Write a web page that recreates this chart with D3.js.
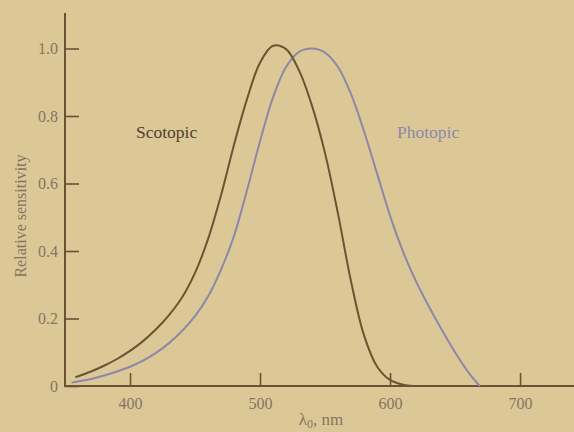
<!DOCTYPE html>
<html>
<head>
  <script src="https://d3js.org/d3.v7.min.js"></script>
  <style>
    body { margin: 0; background: #dcc897; }
    svg { display: block; }
    text { font-family: "Liberation Serif", "DejaVu Serif", serif; }
  </style>
</head>
<body>
  <div id="chart"></div>
  <script>
    // Relative sensitivity curves
    const scotopicNm = [358, 370, 380, 390, 400, 410, 420, 430, 440, 450, 460, 470, 480, 490, 500, 510, 520, 530, 540, 550, 560, 570, 580, 590, 600, 610, 618];
    const scotopicVal = [0.026, 0.043, 0.060, 0.080, 0.104, 0.133, 0.168, 0.210, 0.262, 0.335, 0.435, 0.565, 0.715, 0.850, 0.958, 1.008, 0.998, 0.935, 0.830, 0.690, 0.510, 0.310, 0.150, 0.058, 0.018, 0.004, 0];

    const photopicNm = [355, 370, 380, 390, 400, 410, 420, 430, 440, 450, 460, 470, 480, 490, 500, 510, 520, 530, 540, 550, 560, 570, 580, 590, 600, 610, 620, 630, 640, 650, 660, 669];
    const photopicVal = [0.010, 0.021, 0.031, 0.043, 0.057, 0.075, 0.098, 0.127, 0.163, 0.207, 0.265, 0.345, 0.445, 0.580, 0.725, 0.855, 0.945, 0.990, 1.0, 0.988, 0.945, 0.865, 0.755, 0.630, 0.505, 0.398, 0.310, 0.235, 0.165, 0.100, 0.042, 0];

    const xTicks = [400, 500, 600, 700];
    const yTicks = [0, 0.2, 0.4, 0.6, 0.8, 1.0];
    const yTickLabels = ["0", "0.2", "0.4", "0.6", "0.8", "1.0"];

    const W = 574, H = 432;
    const axisCol = "#6a5233";
    const labelCol = "#857560";

    const svg = d3.select("#chart").append("svg")
      .attr("width", W)
      .attr("height", H);

    svg.append("rect").attr("width", W).attr("height", H).attr("fill", "#dcc897");

    const x = d3.scaleLinear().domain([350, 741.5]).range([65, 574]);
    const y = d3.scaleLinear().domain([0, 1]).range([386, 48.5]);

    // x axis, ticks pointing up
    const gx = svg.append("g")
      .attr("transform", "translate(0,386)")
      .call(d3.axisBottom(x).tickValues(xTicks).tickSize(-13).tickSizeOuter(0).tickPadding(12));
    gx.select(".domain").remove();
    gx.selectAll(".tick line").attr("stroke", axisCol).attr("stroke-width", 1.6);
    gx.selectAll(".tick text").attr("fill", labelCol).attr("font-size", 16);

    // y axis, ticks pointing right
    const gy = svg.append("g")
      .attr("transform", "translate(65,0)")
      .call(d3.axisLeft(y).tickValues(yTicks).tickSize(-14).tickPadding(7)
        .tickFormat((d, i) => yTickLabels[i]));
    gy.select(".domain").remove();
    gy.selectAll(".tick line").attr("stroke", axisCol).attr("stroke-width", 1.6);
    gy.selectAll(".tick text").attr("fill", labelCol).attr("font-size", 16);

    // axis lines
    svg.append("line")
      .attr("x1", 65).attr("x2", W).attr("y1", 386).attr("y2", 386)
      .attr("stroke", axisCol).attr("stroke-width", 2);
    svg.append("line")
      .attr("x1", 65).attr("x2", 65).attr("y1", 13).attr("y2", 387)
      .attr("stroke", axisCol).attr("stroke-width", 2);

    const line = d3.line()
      .x(d => x(d[0]))
      .y(d => y(d[1]))
      .curve(d3.curveCatmullRom.alpha(0.5));

    svg.append("path")
      .datum(photopicNm.map((n, i) => [n, photopicVal[i]]))
      .attr("fill", "none")
      .attr("stroke", "#8d87aa")
      .attr("stroke-width", 2)
      .attr("d", line);

    svg.append("path")
      .datum(scotopicNm.map((n, i) => [n, scotopicVal[i]]))
      .attr("fill", "none")
      .attr("stroke", "#6b5434")
      .attr("stroke-width", 2)
      .attr("d", line);

    // curve labels
    svg.append("text")
      .attr("x", 136).attr("y", 138)
      .attr("font-size", 17.5)
      .attr("fill", "#4f4131")
      .text("Scotopic");

    svg.append("text")
      .attr("x", 397).attr("y", 138)
      .attr("font-size", 17.5)
      .attr("fill", "#8d88a8")
      .text("Photopic");

    // axis titles
    const xt = svg.append("text")
      .attr("x", 321).attr("y", 425)
      .attr("text-anchor", "middle")
      .attr("font-size", 17)
      .attr("fill", labelCol);
    xt.append("tspan").text("λ");
    xt.append("tspan").attr("font-size", 12).attr("dy", 3).text("0");
    xt.append("tspan").attr("dy", -3).text(", nm");

    svg.append("text")
      .attr("transform", "translate(26,216) rotate(-90)")
      .attr("text-anchor", "middle")
      .attr("font-size", 16)
      .attr("fill", labelCol)
      .text("Relative sensitivity");
  </script>
</body>
</html>
